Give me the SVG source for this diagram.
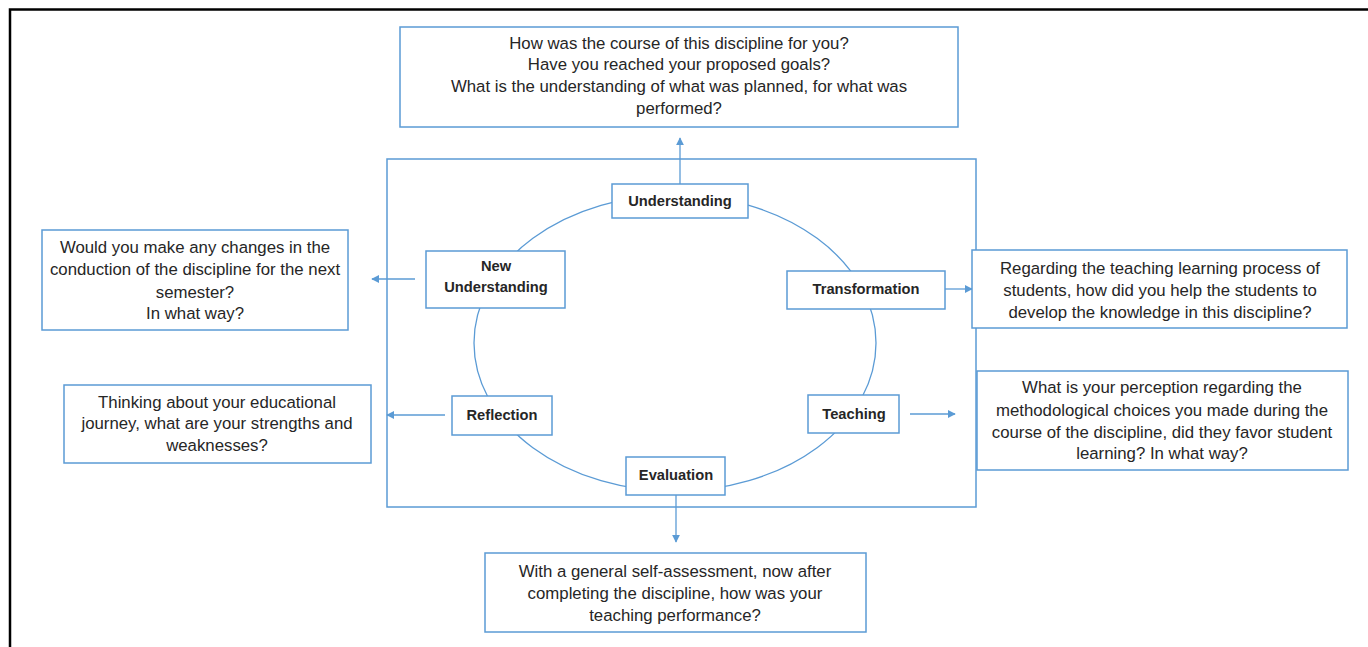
<svg xmlns="http://www.w3.org/2000/svg" width="1368" height="647" viewBox="0 0 1368 647">
<defs>
<style>
.box{fill:#fff;stroke:#5b9bd5;stroke-width:1.5}
.t{font-family:"Liberation Sans",Arial,sans-serif;font-size:16.8px;fill:#262626;text-anchor:middle}
.b{font-family:"Liberation Sans",Arial,sans-serif;font-size:14.7px;font-weight:bold;fill:#262626;text-anchor:middle}
.c{stroke:#5b9bd5;stroke-width:1.3;fill:none}
</style>
<marker id="ah" viewBox="0 0 10 10" refX="9" refY="5" markerWidth="8" markerHeight="8" orient="auto" markerUnits="userSpaceOnUse">
<path d="M0,0 L10,5 L0,10 z" fill="#5b9bd5"/>
</marker>
</defs>
<rect width="1368" height="647" fill="#fff"/>
<path d="M10,647 V9.5 H1368" fill="none" stroke="#000" stroke-width="2.5"/>

<g id="container"><rect class="box" x="387" y="159" width="589" height="348"/></g>
<g id="cycle"><ellipse class="c" cx="675" cy="343" rx="201" ry="148"/></g>

<g id="connectors">
<line class="c" x1="680" y1="184" x2="680" y2="138" marker-end="url(#ah)"/>
<line class="c" x1="415" y1="279" x2="372" y2="279" marker-end="url(#ah)"/>
<line class="c" x1="445" y1="415" x2="387" y2="415" marker-end="url(#ah)"/>
<line class="c" x1="945" y1="289" x2="972" y2="289" marker-end="url(#ah)"/>
<line class="c" x1="910" y1="414" x2="955" y2="414" marker-end="url(#ah)"/>
<line class="c" x1="676" y1="495" x2="676" y2="542" marker-end="url(#ah)"/>
</g>

<g id="understanding"><rect class="box" x="612" y="184" width="136" height="34"/><text class="b" x="680" y="206">Understanding</text></g>
<g id="new-understanding"><rect class="box" x="426" y="251" width="139" height="57"/><text class="b" x="496" y="271">New</text><text class="b" x="496" y="292">Understanding</text></g>
<g id="transformation"><rect class="box" x="787" y="271" width="158" height="38"/><text class="b" x="866" y="294">Transformation</text></g>
<g id="reflection"><rect class="box" x="452" y="396" width="100" height="39"/><text class="b" x="502" y="420">Reflection</text></g>
<g id="teaching"><rect class="box" x="808" y="395" width="91" height="38"/><text class="b" x="854" y="419">Teaching</text></g>
<g id="evaluation"><rect class="box" x="626" y="457" width="99" height="38"/><text class="b" x="676" y="480">Evaluation</text></g>

<g id="q-top"><rect class="box" x="400" y="27" width="558" height="100"/>
<text class="t" x="679" y="49">How was the course of this discipline for you?</text>
<text class="t" x="679" y="70">Have you reached your proposed goals?</text>
<text class="t" x="679" y="92">What is the understanding of what was planned, for what was</text>
<text class="t" x="679" y="114">performed?</text></g>

<g id="q-left1"><rect class="box" x="42" y="230" width="306" height="100"/>
<text class="t" x="195" y="253">Would you make any changes in the</text>
<text class="t" x="195" y="275">conduction of the discipline for the next</text>
<text class="t" x="195" y="298">semester?</text>
<text class="t" x="195" y="319">In what way?</text></g>

<g id="q-left2"><rect class="box" x="64" y="385" width="307" height="78"/>
<text class="t" x="217" y="408">Thinking about your educational</text>
<text class="t" x="217" y="429">journey, what are your strengths and</text>
<text class="t" x="217" y="451">weaknesses?</text></g>

<g id="q-right1"><rect class="box" x="972" y="250" width="375" height="78"/>
<text class="t" x="1160" y="274">Regarding the teaching learning process of</text>
<text class="t" x="1160" y="296">students, how did you help the students to</text>
<text class="t" x="1160" y="318">develop the knowledge in this discipline?</text></g>

<g id="q-right2"><rect class="box" x="977" y="371" width="371" height="99"/>
<text class="t" x="1162" y="393">What is your perception regarding the</text>
<text class="t" x="1162" y="416">methodological choices you made during the</text>
<text class="t" x="1162" y="438">course of the discipline, did they favor student</text>
<text class="t" x="1162" y="459">learning? In what way?</text></g>

<g id="q-bottom"><rect class="box" x="485" y="553" width="381" height="79"/>
<text class="t" x="675" y="577">With a general self-assessment, now after</text>
<text class="t" x="675" y="599">completing the discipline, how was your</text>
<text class="t" x="675" y="621">teaching performance?</text></g>
</svg>
